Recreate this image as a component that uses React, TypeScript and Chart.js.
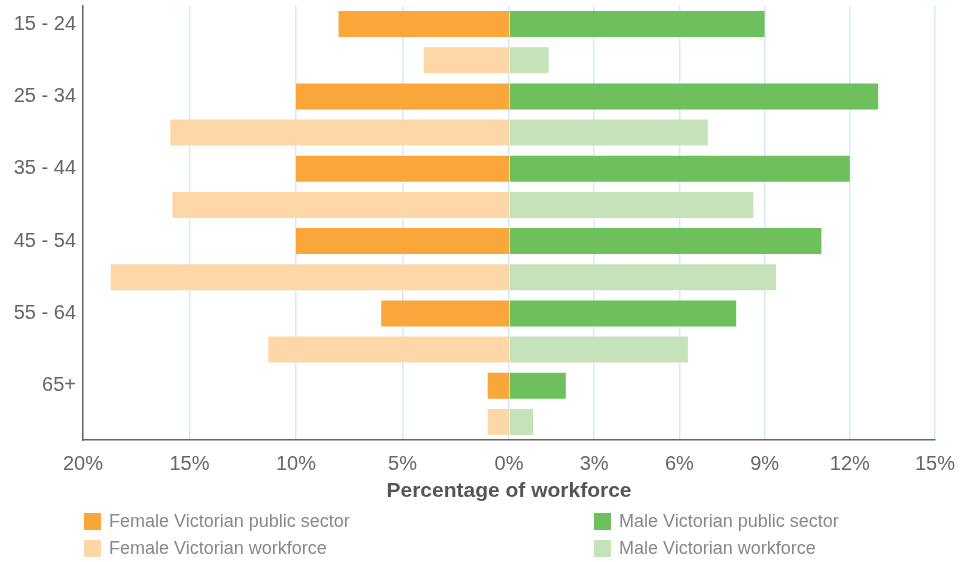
import React, { useEffect, useRef } from "react";
import { Chart, registerables } from "chart.js";

Chart.register(...registerables);

const ageGroups = ["15 - 24", "25 - 34", "35 - 44", "45 - 54", "55 - 64", "65+"];
const femalePublic = [8.0, 10.0, 10.0, 10.0, 6.0, 1.0];
const femaleWorkforce = [4.0, 15.9, 15.8, 18.7, 11.3, 1.0];
const malePublic = [9.0, 13.0, 12.0, 11.0, 8.0, 2.0];
const maleWorkforce = [1.4, 7.0, 8.6, 9.4, 6.3, 0.85];

const femaleTicks = [20, 15, 10, 5, 0];
const maleTicks = [3, 6, 9, 12, 15];
const femaleMax = 20;
const maleMax = 15;

const seriesNames = [
  "Female Victorian public sector",
  "Female Victorian workforce",
  "Male Victorian public sector",
  "Male Victorian workforce",
];
const seriesColors = ["#F9A73A", "#FDD7A7", "#6EC05C", "#C5E2BB"];

const FONT = "'Liberation Sans', Arial, Helvetica, sans-serif";

export default function App() {
  const canvasRef = useRef<HTMLCanvasElement | null>(null);

  useEffect(() => {
    if (!canvasRef.current) return;

    const rowLabels = ageGroups.flatMap((g) => [g, ""]);
    const fp = ageGroups.flatMap((_, i) => [-femalePublic[i], null]);
    const fw = ageGroups.flatMap((_, i) => [null, -femaleWorkforce[i]]);
    const mp = ageGroups.flatMap((_, i) => [malePublic[i], null]);
    const mw = ageGroups.flatMap((_, i) => [null, maleWorkforce[i]]);

    const tickValues = [
      ...femaleTicks.map((t) => (-t * maleMax) / femaleMax),
      ...maleTicks,
    ];
    const tickLabels = [
      ...femaleTicks.map((t) => `${t}%`),
      ...maleTicks.map((t) => `${t}%`),
    ];

    const common = {
      stack: "all",
      categoryPercentage: 0.8,
      barPercentage: 0.9,
      borderWidth: 0,
    };

    const chart = new Chart(canvasRef.current, {
      type: "bar",
      data: {
        labels: rowLabels,
        datasets: [
          { ...common, label: seriesNames[0], data: fp, xAxisID: "xF", backgroundColor: seriesColors[0] },
          { ...common, label: seriesNames[1], data: fw, xAxisID: "xF", backgroundColor: seriesColors[1] },
          { ...common, label: seriesNames[2], data: mp, xAxisID: "xM", backgroundColor: seriesColors[2] },
          { ...common, label: seriesNames[3], data: mw, xAxisID: "xM", backgroundColor: seriesColors[3] },
        ] as any,
      },
      options: {
        indexAxis: "y",
        animation: false,
        responsive: false,
        devicePixelRatio: 1,
        layout: { padding: { left: 0, right: 26, top: 6, bottom: 58.4 } },
        plugins: {
          legend: { display: false },
          tooltip: { enabled: false },
        },
        scales: {
          y: {
            stacked: true,
            grid: { display: false, drawTicks: false },
            border: { display: true, color: "#666", width: 1.5 },
            ticks: {
              autoSkip: false,
              color: "#666",
              padding: 7,
              font: { family: FONT, size: 20 },
            },
            afterFit: (s: any) => {
              s.width = 83;
              s.paddingTop = 0;
              s.paddingBottom = 0;
            },
          },
          xF: {
            type: "linear",
            position: "bottom",
            display: false,
            min: -femaleMax,
            max: femaleMax,
          },
          xM: {
            type: "linear",
            position: "bottom",
            min: -maleMax,
            max: maleMax,
            grid: { color: "#D4EAF7", lineWidth: 1.5, drawTicks: false },
            border: { display: true, color: "#666", width: 1.5 },
            afterBuildTicks: (s: any) => {
              s.ticks = tickValues.map((v) => ({ value: v }));
            },
            afterFit: (s: any) => {
              s.paddingLeft = 0;
              s.paddingRight = 0;
            },
            ticks: {
              autoSkip: false,
              maxRotation: 0,
              color: "#666",
              padding: 12,
              font: { family: FONT, size: 20 },
              callback: (_v: any, i: number) => tickLabels[i],
            },
            title: {
              display: true,
              text: "Percentage of workforce",
              color: "#555",
              font: { family: FONT, size: 21, weight: "bold" },
              padding: { top: -9.6, bottom: 0 },
            },
          },
        } as any,
      },
    });

    return () => chart.destroy();
  }, []);

  const legendPos = [
    { left: 84, top: 513 },
    { left: 84, top: 540 },
    { left: 594, top: 513 },
    { left: 594, top: 540 },
  ];

  return (
    <div
      style={{
        position: "absolute",
        left: 0,
        top: 0,
        width: 961,
        height: 562,
        background: "#fff",
        fontFamily: FONT,
      }}
    >
      <canvas ref={canvasRef} width={961} height={562} style={{ display: "block" }} />
      {seriesNames.map((name, i) => (
        <div
          key={name}
          style={{
            position: "absolute",
            left: legendPos[i].left,
            top: legendPos[i].top,
            height: 17,
            display: "flex",
            alignItems: "center",
            whiteSpace: "nowrap",
          }}
        >
          <span
            style={{
              display: "inline-block",
              width: 17,
              height: 17,
              background: seriesColors[i],
              marginRight: 8,
            }}
          />
          <span style={{ fontSize: 18, lineHeight: "17px", color: "#888" }}>{name}</span>
        </div>
      ))}
    </div>
  );
}
